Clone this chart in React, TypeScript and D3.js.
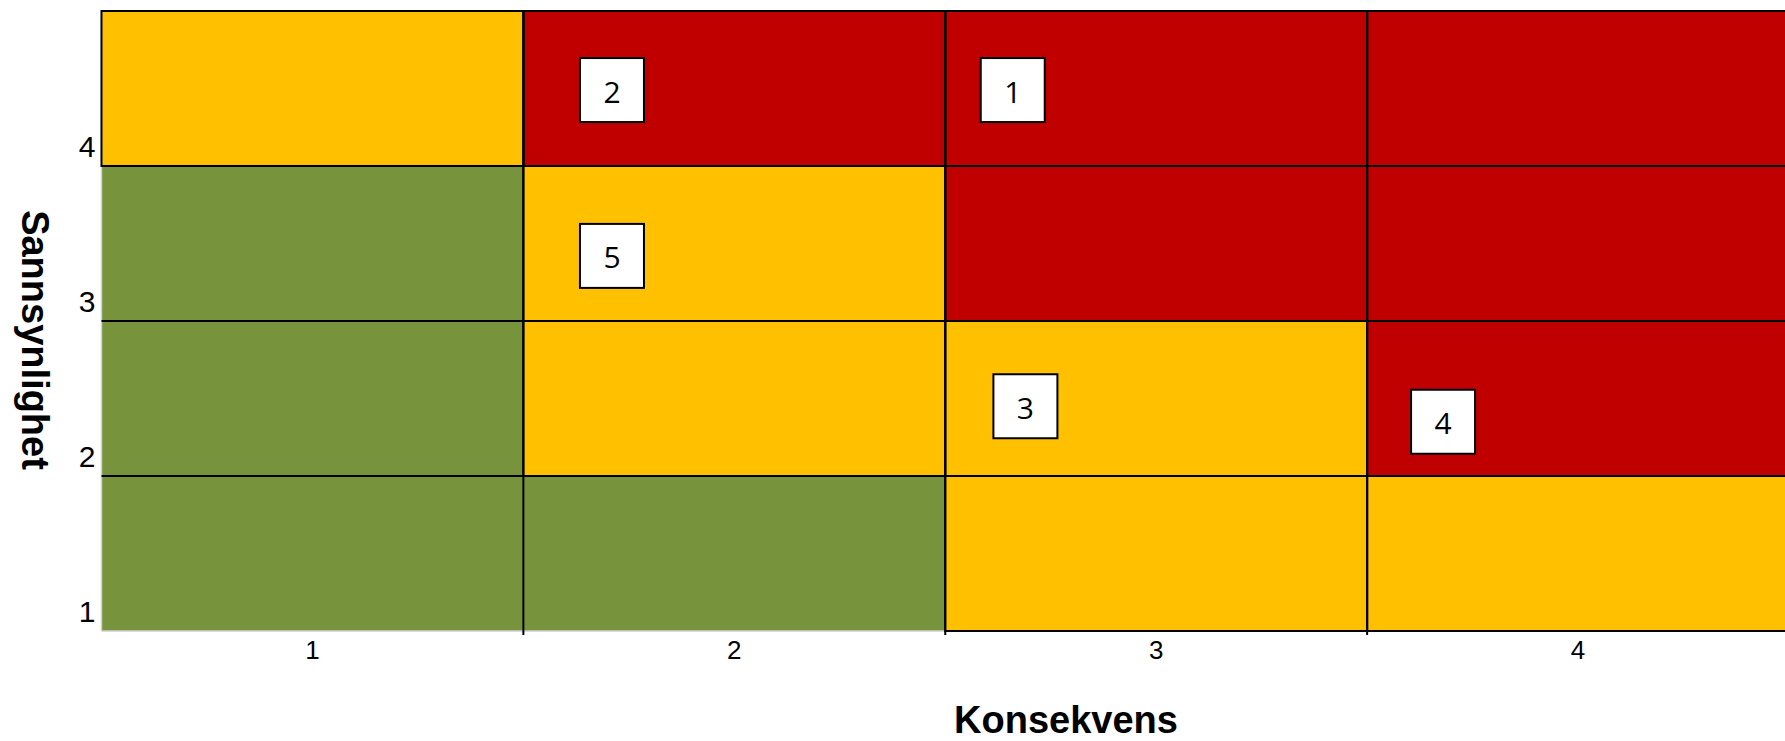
import React from 'react';
import * as d3 from 'd3';

// consequence (x) and probability (y) categories
const konsekvens = [1, 2, 3, 4];
const sannsynlighet = [1, 2, 3, 4];

// risk level per cell, rows = probability 1..4, cols = consequence 1..4
const riskMatrix = [
  ['low', 'low', 'medium', 'medium'],
  ['low', 'medium', 'medium', 'high'],
  ['low', 'medium', 'high', 'high'],
  ['medium', 'high', 'high', 'high'],
];

// numbered risks placed on the matrix
const riskIds = ['1', '2', '3', '4', '5'];
const riskKonsekvens = [2.66, 1.71, 2.69, 3.68, 1.71];
const riskSannsynlighet = [3.99, 3.99, 1.95, 1.85, 2.92];

const levelColor: Record<string, string> = {
  low: '#77933C',
  medium: '#FFC000',
  high: '#C00000',
};

const width = 1785;
const height = 741;
const margin = { top: 11, right: -4, bottom: 110, left: 101.5 };

const App: React.FC = () => {
  const x = d3.scaleLinear()
    .domain([0.5, 4.5])
    .range([margin.left, width - margin.right]);
  const y = d3.scaleLinear()
    .domain([0.5, 4.5])
    .range([height - margin.bottom, margin.top]);

  const cells = sannsynlighet.flatMap((p, ri) =>
    konsekvens.map((k, ci) => ({ k, p, level: riskMatrix[ri][ci] }))
  );
  const bounds = [1.5, 2.5, 3.5];
  const boxSize = 64;

  return (
    <svg width={width} height={height}
      style={{ position: 'absolute', left: 0, top: 0, display: 'block', overflow: 'hidden' }}>
      <rect x={0} y={0} width={width} height={height} fill="#fff" />

      {/* cell fills */}
      {cells.map((c, i) => (
        <rect key={'f' + i}
          x={x(c.k - 0.5)} y={y(c.p + 0.5)}
          width={x(c.k + 0.5) - x(c.k - 0.5)}
          height={y(c.p - 0.5) - y(c.p + 0.5)}
          fill={levelColor[c.level]} />
      ))}

      {/* light axis lines */}
      <line x1={x(0.5)} x2={x(0.5)} y1={y(0.5)} y2={y(4.5)} stroke="#d0d0d0" strokeWidth={1.5} />
      <line x1={x(0.5)} x2={x(4.5)} y1={y(0.5)} y2={y(0.5)} stroke="#d0d0d0" strokeWidth={1.5} />

      {/* grid lines at category boundaries */}
      {bounds.map((b) => (
        <line key={'gx' + b} x1={x(b)} x2={x(b)} y1={y(4.5)} y2={y(0.5) + 4}
          stroke="#000" strokeWidth={2} />
      ))}
      {bounds.map((b) => (
        <line key={'gy' + b} x1={x(0.5)} x2={x(4.5)} y1={y(b)} y2={y(b)}
          stroke="#000" strokeWidth={2} />
      ))}

      {/* outlines on coloured (non-green) cells */}
      {cells.filter((c) => c.level !== 'low').map((c, i) => (
        <rect key={'o' + i}
          x={x(c.k - 0.5)} y={y(c.p + 0.5)}
          width={x(c.k + 0.5) - x(c.k - 0.5)}
          height={y(c.p - 0.5) - y(c.p + 0.5)}
          fill="none" stroke="#000" strokeWidth={2} />
      ))}

      {/* x tick labels */}
      {konsekvens.map((k) => (
        <text key={'xt' + k} x={x(k)} y={y(0.5) + 28} textAnchor="middle"
          fontFamily="Liberation Sans, Arial, sans-serif" fontSize={26} fill="#000">
          {k}
        </text>
      ))}

      {/* y tick labels */}
      {sannsynlighet.map((p) => (
        <text key={'yt' + p} x={x(0.5) - 6} y={y(p - 0.5) - 9} textAnchor="end"
          fontFamily="Liberation Sans, Arial, sans-serif" fontSize={30} fill="#000">
          {p}
        </text>
      ))}

      {/* risk markers */}
      {riskIds.map((id, i) => (
        <g key={'r' + id}
          transform={`translate(${x(riskKonsekvens[i])},${y(riskSannsynlighet[i])})`}>
          <rect x={-boxSize / 2} y={-boxSize / 2} width={boxSize} height={boxSize}
            fill="#fff" stroke="#000" strokeWidth={2} />
          <text y={1} textAnchor="middle" dominantBaseline="central"
            fontFamily="Open Sans, sans-serif" fontSize={30} fill="#000">
            {id}
          </text>
        </g>
      ))}

      {/* axis titles */}
      <text x={1066} y={733} textAnchor="middle"
        fontFamily="Liberation Sans, Arial, sans-serif" fontWeight="bold" fontSize={38} fill="#000">
        Konsekvens
      </text>
      <text transform="translate(22,340) rotate(90)" textAnchor="middle"
        fontFamily="Liberation Sans, Arial, sans-serif" fontWeight="bold" fontSize={38} fill="#000">
        Sannsynlighet
      </text>
    </svg>
  );
};

export default App;
